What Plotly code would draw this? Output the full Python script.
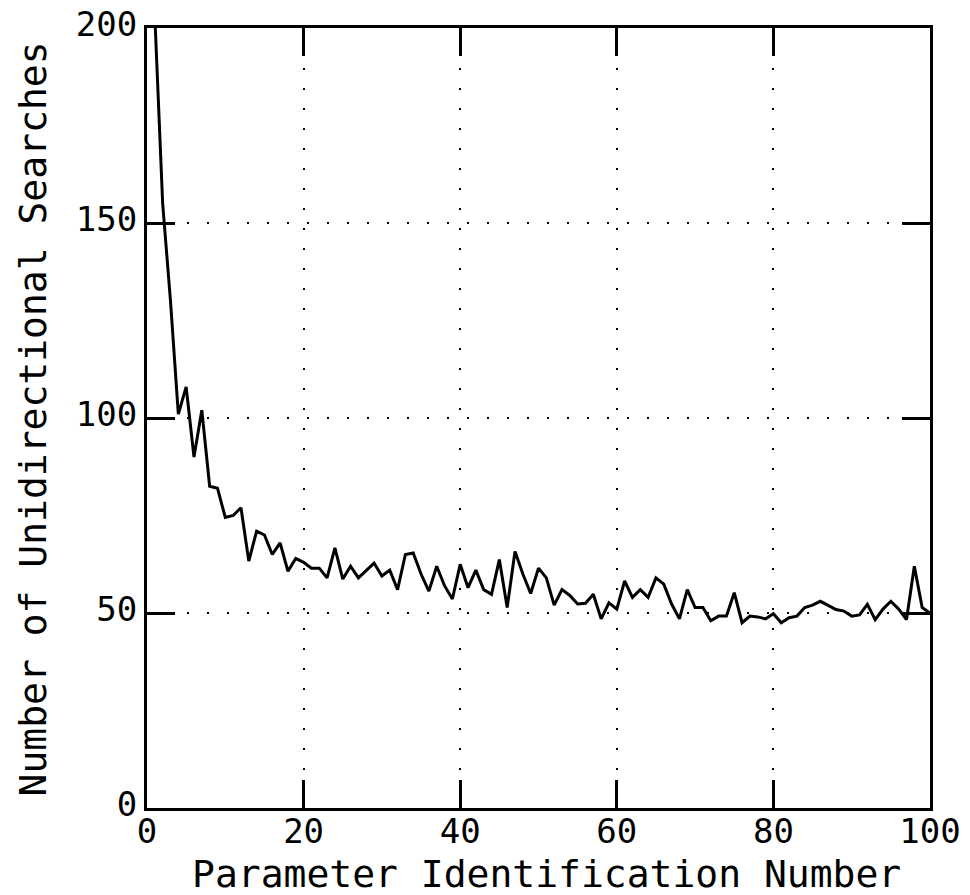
import plotly.graph_objects as go

param_id = list(range(1, 101))
searches = [
    203, 155, 130, 101, 108, 90, 102, 82.5, 82, 74.5,
    75, 77, 63.3, 71, 70, 65, 68, 60.7, 64, 63,
    61.5, 61.5, 59, 66.7, 58.7, 62, 59, 61, 62.8, 59.5,
    61, 56, 65, 65.4, 60, 55.6, 62, 57, 53.6, 62.5,
    56.5, 61, 56, 54.8, 63.7, 51.4, 65.8, 60, 55, 61.5,
    59, 52, 56, 54.5, 52.3, 52.5, 54.8, 48.5, 52.6, 51,
    58.2, 54, 56, 54, 59, 57.4, 52.3, 48.5, 56, 51.4,
    51.4, 48, 49.2, 49.2, 55.2, 47.5, 49.2, 49, 48.5, 49.8,
    47.5, 48.8, 49.2, 51.4, 52, 53, 52, 50.9, 50.5, 49.2,
    49.5, 52.2, 48.3, 51, 53, 51, 48.3, 62, 51.4, 50,
]
x_ticks = [0, 20, 40, 60, 80, 100]
y_ticks = [0, 50, 100, 150, 200]
x_title = "Parameter Identification Number"
y_title = "Number of Unidirectional Searches"

FONT = "DejaVu Sans Mono"

fig = go.Figure()
fig.add_trace(go.Scatter(
    x=param_id, y=searches, mode="lines",
    line=dict(color="black", width=3),
    showlegend=False,
))

axis_common = dict(
    showline=True, linecolor="black", linewidth=3, mirror="ticks",
    ticks="inside", ticklen=28, tickwidth=2.5, tickcolor="black",
    showgrid=True, gridcolor="black", gridwidth=1.5, griddash="2px,18px",
    zeroline=False, automargin=False, ticklabeloverflow="allow",
    tickfont=dict(family=FONT, size=34, color="black"),
)

fig.update_xaxes(
    range=[0, 100], tickvals=x_ticks, ticktext=[str(v) for v in x_ticks],
    ticklabelstandoff=-9,
    **axis_common,
)
fig.update_yaxes(
    range=[0, 200], tickvals=y_ticks, ticktext=[str(v) for v in y_ticks],
    ticklabelshift=-4,
    **axis_common,
)

fig.add_annotation(
    text=x_title, xref="paper", yref="paper", x=0.51, y=-0.085,
    xanchor="center", yanchor="middle", showarrow=False,
    font=dict(family=FONT, size=38, color="black"),
)
fig.add_annotation(
    text=y_title, xref="paper", yref="paper", x=-0.146, y=0.499,
    xanchor="center", yanchor="middle", showarrow=False, textangle=-90,
    font=dict(family=FONT, size=38, color="black"),
)

fig.update_layout(
    width=962, height=887,
    margin=dict(l=139, r=40, t=20, b=87),
    paper_bgcolor="white", plot_bgcolor="white",
)

fig.write_html("out.html")
